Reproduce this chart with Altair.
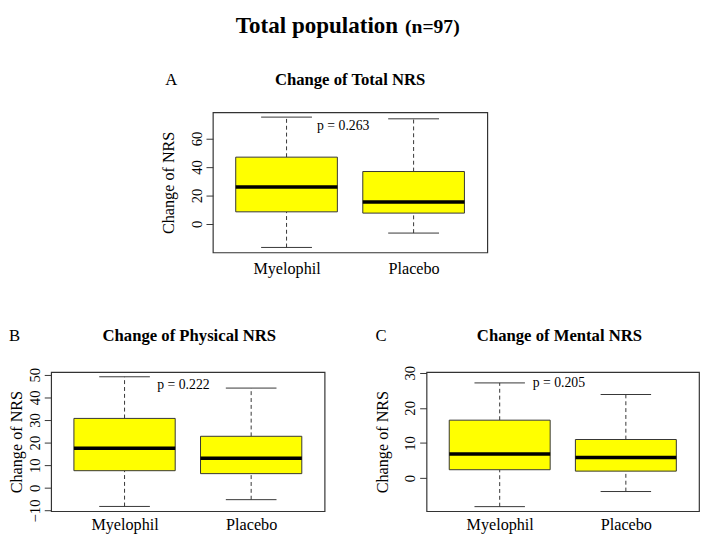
import altair as alt
import pandas as pd

SERIF = "Liberation Serif"
FRAME = "#333333"

groups = ["Myelophil", "Placebo"]
positions = [1, 2]

# Panel A: Change of Total NRS
a_low = [-16.5, -6.4]
a_q1 = [8.5, 7.6]
a_med = [26.0, 15.4]
a_q3 = [46.9, 36.8]
a_high = [75.0, 73.8]

# Panel B: Change of Physical NRS
b_low = [-8.2, -5.2]
b_q1 = [7.6, 6.3]
b_med = [17.5, 13.1]
b_q3 = [30.7, 22.8]
b_high = [49.1, 44.1]

# Panel C: Change of Mental NRS
c_low = [-8.1, -3.8]
c_q1 = [2.4, 2.0]
c_med = [6.9, 5.9]
c_q3 = [16.5, 11.0]
c_high = [27.1, 23.8]

p_labels = ["p = 0.263", "p = 0.222", "p = 0.205"]
p_x = [1.446, 1.465, 1.469]
p_y = [68.5, 45.4, 27.1]

y_ticks_a = [0, 20, 40, 60]
y_ticks_b = [-10, 0, 10, 20, 30, 40, 50]
y_ticks_c = [0, 10, 20, 30]

label_expr = f"datum.value == 1 ? '{groups[0]}' : '{groups[1]}'"


def panel(letter, title, low, q1, med, q3, high, p_label, px, py,
          ydomain, yticks, w, h, letter_dx, letter_dy, title_dx, title_pad,
          xlab_pad):
    df = pd.DataFrame({"group": groups, "pos": positions, "low": low,
                       "q1": q1, "med": med, "q3": q3, "high": high})
    base = alt.Chart(df).transform_calculate(
        xl="datum.pos - 0.4", xr="datum.pos + 0.4",
        cl="datum.pos - 0.2", cr="datum.pos + 0.2")

    xscale = alt.Scale(domain=[0.42, 2.58], nice=False, zero=False)
    yscale = alt.Scale(domain=ydomain, nice=False, zero=False)
    xaxis = alt.Axis(values=positions, labelExpr=label_expr, ticks=False,
                     domain=False, grid=False, title=None, labelFont=SERIF,
                     labelFontSize=16.5, labelColor="black",
                     labelPadding=xlab_pad, labelFlush=False,
                     labelOverlap=False)
    yaxis = alt.Axis(values=yticks, grid=False, domain=False, tickSize=7,
                     tickColor=FRAME, labelAngle=270, labelAlign="center",
                     labelBaseline="bottom", labelPadding=2, labelFont=SERIF,
                     labelFontSize=15, labelColor="black", labelFlush=False,
                     labelOverlap=False, labelSeparation=0,
                     title="Change of NRS",
                     titleFont=SERIF, titleFontSize=16.5,
                     titleFontWeight="normal", titleColor="black",
                     titlePadding=title_pad)

    def Y(field):
        return alt.Y(field, scale=yscale, axis=yaxis)

    def X(field):
        return alt.X(field, scale=xscale, axis=xaxis)

    whisk_lo = base.mark_rule(color=FRAME, strokeDash=[4, 3]).encode(
        x=X("pos:Q"), y=Y("low:Q"), y2="q1:Q")
    whisk_hi = base.mark_rule(color=FRAME, strokeDash=[4, 3]).encode(
        x=X("pos:Q"), y=Y("q3:Q"), y2="high:Q")
    cap_lo = base.mark_rule(color=FRAME).encode(x=X("cl:Q"), x2="cr:Q", y=Y("low:Q"))
    cap_hi = base.mark_rule(color=FRAME).encode(x=X("cl:Q"), x2="cr:Q", y=Y("high:Q"))
    box = base.mark_rect(fill="#ffff00", stroke=FRAME, strokeWidth=1).encode(
        x=X("xl:Q"), x2="xr:Q", y=Y("q1:Q"), y2="q3:Q")
    median = base.mark_rule(color="black", strokeWidth=3.5).encode(
        x=X("xl:Q"), x2="xr:Q", y=Y("med:Q"))

    pdf = pd.DataFrame({"px": [px], "py": [py], "label": [p_label]})
    ptext = alt.Chart(pdf).mark_text(font=SERIF, fontSize=14, color="black").encode(
        x=X("px:Q"), y=Y("py:Q"), text="label:N")

    tdf = pd.DataFrame({"t": [title], "l": [letter]})
    ttl = alt.Chart(tdf).mark_text(font=SERIF, fontSize=17, fontWeight="bold",
                                   color="black", baseline="middle").encode(
        x=alt.value(title_dx), y=alt.value(letter_dy), text="t:N")
    lt = alt.Chart(tdf).mark_text(font=SERIF, fontSize=17, color="black",
                                  align="left", baseline="middle").encode(
        x=alt.value(letter_dx), y=alt.value(letter_dy), text="l:N")

    layers = [whisk_lo, whisk_hi, cap_lo, cap_hi, box, median, ptext, ttl, lt]
    return layers, (w, h)


layers_a, size_a = panel("A", "Change of Total NRS", a_low, a_q1, a_med, a_q3,
                         a_high, p_labels[0], p_x[0], p_y[0], [-20.0, 78.4],
                         y_ticks_a, 280, 143, -48.5, -33, 140, 13, 8)
main_df = pd.DataFrame({"t1": ["Total population"], "t2": ["(n=97)"]})
main1 = alt.Chart(main_df).mark_text(font=SERIF, fontSize=23.5, fontWeight="bold",
                                     color="black", align="right",
                                     baseline="alphabetic").encode(
    x=alt.value(189), y=alt.value(-81), text="t1:N")
main2 = alt.Chart(main_df).mark_text(font=SERIF, fontSize=20, fontWeight="bold",
                                     color="black", align="left",
                                     baseline="alphabetic").encode(
    x=alt.value(196), y=alt.value(-81), text="t2:N")
chart_a = alt.layer(*layers_a, main1, main2).properties(
    width=size_a[0], height=size_a[1])

layers_b, size_b = panel("B", "Change of Physical NRS", b_low, b_q1, b_med,
                         b_q3, b_high, p_labels[1], p_x[1], p_y[1],
                         [-10.3, 51.2], y_ticks_b, 279, 142, -43, -37, 141, 3, 6)
chart_b = alt.layer(*layers_b).properties(width=size_b[0], height=size_b[1])

layers_c, size_c = panel("C", "Change of Mental NRS", c_low, c_q1, c_med,
                         c_q3, c_high, p_labels[2], p_x[2], p_y[2],
                         [-9.4, 30.2], y_ticks_c, 278, 142, -52, -37, 135.6, 13, 6)
chart_c = alt.layer(*layers_c).properties(width=size_c[0], height=size_c[1])

spacer = alt.Chart(pd.DataFrame({"v": [0]})).mark_point(opacity=0).encode(
    x=alt.X("v:Q", axis=None), y=alt.Y("v:Q", axis=None)
).properties(width=110, height=10, view=alt.ViewBackground(stroke="transparent"))

top = alt.hconcat(spacer, chart_a, spacing=0)
bottom = alt.hconcat(chart_b, chart_c, spacing=49)
chart = alt.vconcat(top, bottom, spacing=49).properties(
    padding=0, background="white"
).configure_view(stroke=FRAME, strokeWidth=1.2).configure_axis(
    labelOverlap=False)

chart.save("out.html", embed_options={"renderer": "svg", "actions": False})
